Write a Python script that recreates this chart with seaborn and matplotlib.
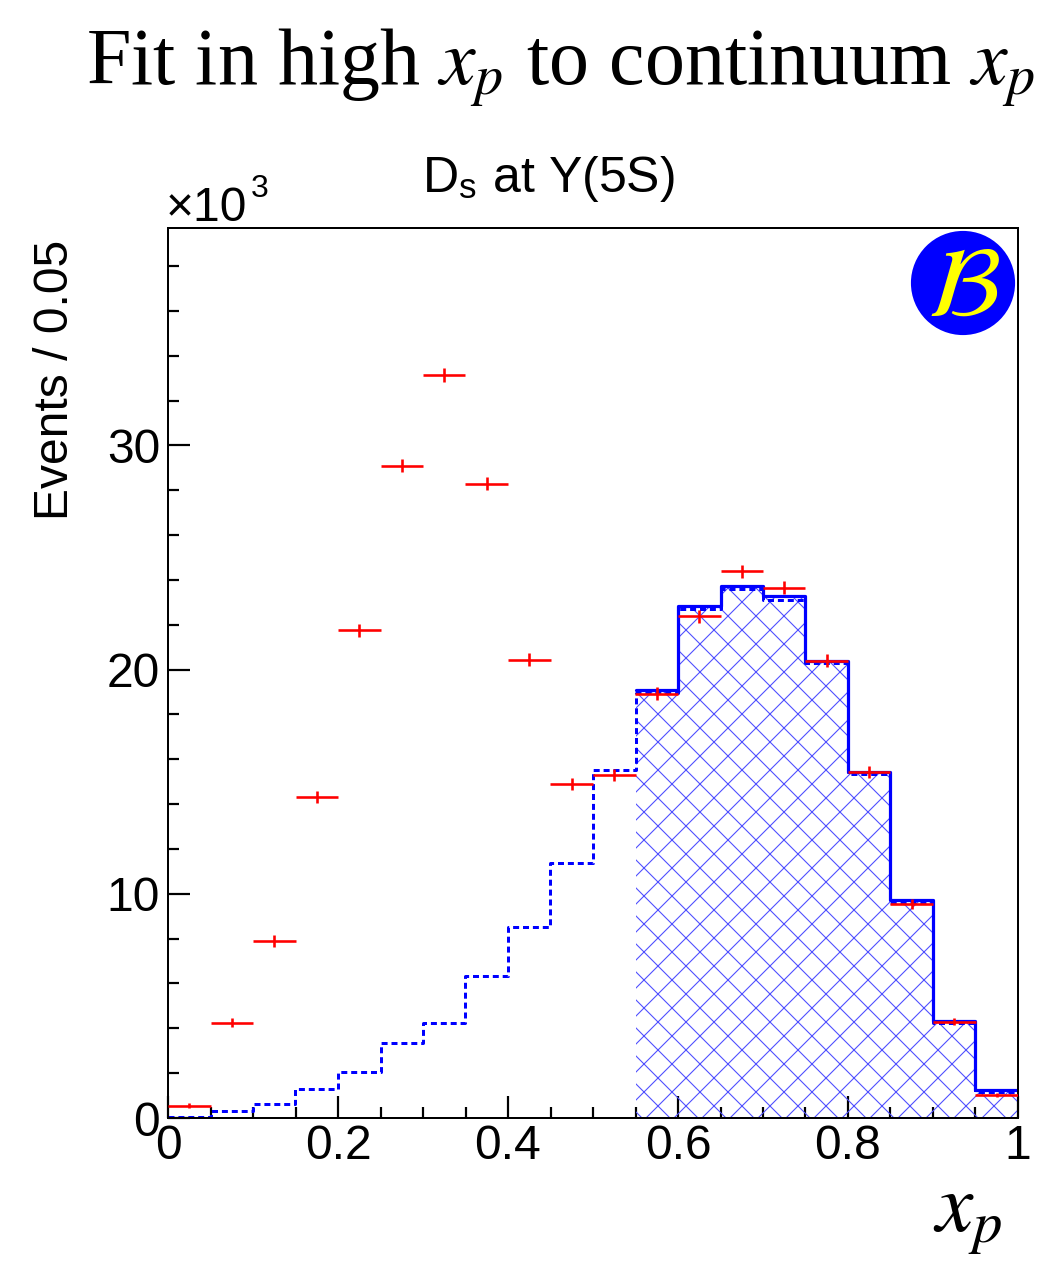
import numpy as np
import pandas as pd
import matplotlib
matplotlib.use("Agg")
import matplotlib.pyplot as plt
from matplotlib.patches import Circle
from matplotlib.ticker import MultipleLocator
import seaborn as sns

# ---- data (values in units of 10^3 events per 0.05 bin) ----
bin_edges = [0.0, 0.05, 0.10, 0.15, 0.20, 0.25, 0.30, 0.35, 0.40, 0.45, 0.50,
             0.55, 0.60, 0.65, 0.70, 0.75, 0.80, 0.85, 0.90, 0.95, 1.00]
data_counts = [0.55, 4.24, 7.9, 14.33, 21.75, 29.1, 33.15, 28.3, 20.45, 14.9,
               15.3, 18.93, 22.38, 24.38, 23.66, 20.4, 15.45, 9.55, 4.3, 1.03]
data_err = [0.12, 0.2, 0.25, 0.27, 0.3, 0.3, 0.3, 0.3, 0.3, 0.27,
            0.27, 0.28, 0.3, 0.3, 0.3, 0.3, 0.27, 0.22, 0.15, 0.1]
cont_counts = [0.05, 0.31, 0.62, 1.3, 2.07, 3.36, 4.24, 6.34, 8.53, 11.38,
               15.54, 18.95, 22.7, 23.6, 23.1, 20.3, 15.35, 9.6, 4.25, 1.15]
fit_edges = [0.55, 0.60, 0.65, 0.70, 0.75, 0.80, 0.85, 0.90, 0.95, 1.00]
fit_counts = [19.07, 22.86, 23.72, 23.27, 20.4, 15.45, 9.73, 4.33, 1.25]

edges = np.array(bin_edges)
centers = 0.5 * (edges[:-1] + edges[1:])
fedges = np.array(fit_edges)
fcenters = 0.5 * (fedges[:-1] + fedges[1:])

df_all = pd.DataFrame({"xp": centers, "data": data_counts, "err": data_err,
                       "cont": cont_counts})
df_fit = pd.DataFrame({"xp": fcenters, "fit": fit_counts})

DPI = 84
W, H = 1051, 1261


def px(v):
    """convert pixels to points at the chosen dpi"""
    return v * 72.0 / DPI


sns.set_theme(style="white")
plt.rcParams["font.family"] = ["Liberation Sans", "DejaVu Sans"]
plt.rcParams["mathtext.fontset"] = "stix"
plt.rcParams["hatch.linewidth"] = px(1.1)
plt.rcParams["text.color"] = "black"
plt.rcParams["xtick.color"] = "black"
plt.rcParams["ytick.color"] = "black"

fig = plt.figure(figsize=(W / DPI, H / DPI), dpi=DPI)
ax = fig.add_axes([168 / W, 1 - 1118 / H, 850 / W, 890 / H])

# hatched fit region
n_before = len(ax.collections)
sns.histplot(data=df_fit, x="xp", weights="fit", bins=list(fit_edges),
             element="step", fill=True, color="#5050ff", linewidth=0,
             alpha=1.0, ax=ax)
for coll in ax.collections[n_before:]:
    coll.set_facecolor("none")
    coll.set_edgecolor("#4f4fff")
    coll.set_hatch("x")
    coll.set_linewidth(0)
# continuum (dotted)
sns.histplot(data=df_all, x="xp", weights="cont", bins=list(bin_edges),
             element="step", fill=False, color="blue", linewidth=px(3.0),
             linestyle=(0, (2.0, 1.3)), ax=ax)
# fit outline (solid)
sns.histplot(data=df_fit, x="xp", weights="fit", bins=list(fit_edges),
             element="step", fill=False, color="blue", linewidth=px(3.2), ax=ax)
# data points
ax.errorbar(df_all["xp"], df_all["data"], xerr=0.025, yerr=df_all["err"],
            fmt="none", ecolor="red", elinewidth=px(2.6), capsize=0, zorder=5)

ax.set_xlim(0, 1)
ax.set_ylim(0, 39.7)
ax.set_xlabel("")
ax.set_ylabel("")
ax.xaxis.set_minor_locator(MultipleLocator(0.05))
ax.yaxis.set_minor_locator(MultipleLocator(2))
ax.set_xticks([0, 0.2, 0.4, 0.6, 0.8, 1.0])
ax.set_xticklabels(["0", "0.2", "0.4", "0.6", "0.8", "1"])
ax.set_yticks([0, 10, 20, 30])
ax.set_yticklabels(["0", "10", "20", "30"])
ax.tick_params(axis="both", which="major", direction="in", length=px(22),
               width=px(2.2), labelsize=px(48), color="black")
ax.tick_params(axis="x", which="major", pad=px(6))
ax.tick_params(axis="y", which="major", pad=px(8))
ax.tick_params(axis="both", which="minor", direction="in", length=px(11),
               width=px(2.2), color="black")
ax.tick_params(axis="both", which="both", bottom=True, left=True, top=False,
               right=False)
for s in ax.spines.values():
    s.set_color("black")
    s.set_linewidth(px(2.0))
ax.grid(False)

# texts
fig.text(1035 / W, 1 - 85 / H, r"Fit in high $x_p$ to continuum $x_p$",
         ha="right", va="baseline", fontsize=px(80),
         family=["Liberation Serif", "DejaVu Serif"])
fig.text(548 / W, 1 - 192 / H, r"D$_{\mathregular{s}}$ at Y(5S)",
         ha="center", va="baseline", fontsize=px(50))
fig.text(166 / W, 1 - 221 / H, "\u00d710", ha="left", va="baseline",
         fontsize=px(48))
fig.text(251 / W, 1 - 197 / H, "3", ha="left", va="baseline",
         fontsize=px(32))
fig.text(55 / W, 1 - 380 / H, "Events / 0.05", rotation=90, ha="center",
         va="center", fontsize=px(48))
fig.text(968 / W, 1 - 1232 / H, r"$x_p$", ha="center", va="baseline",
         fontsize=px(84))

# Belle-like logo
logo_ax = fig.add_axes([(963 - 56) / W, 1 - (283 + 56) / H, 112 / W, 112 / H])
logo_ax.set_xlim(-1, 1)
logo_ax.set_ylim(-1, 1)
logo_ax.axis("off")
logo_ax.add_patch(Circle((0, 0), 0.93, facecolor="blue", edgecolor="none"))
logo_ax.text(0.0, -0.12, r"$\mathcal{B}$", color="yellow", fontsize=px(100),
             ha="center", va="center")

fig.savefig("out.png", dpi=DPI)
